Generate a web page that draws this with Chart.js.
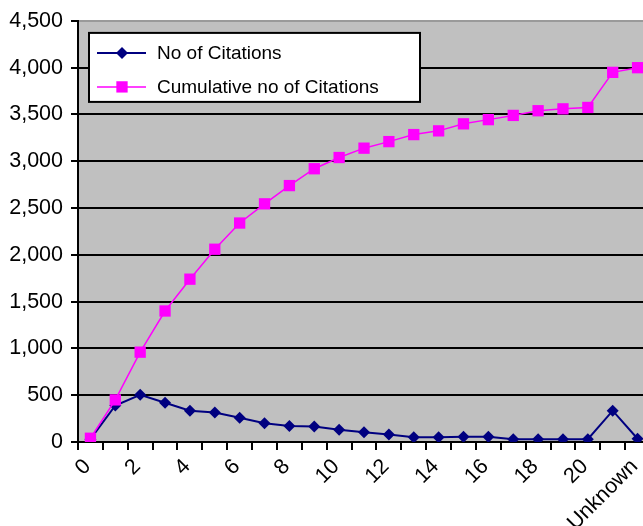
<!DOCTYPE html>
<html><head><meta charset="utf-8">
<script src="https://cdn.jsdelivr.net/npm/chart.js@4/dist/chart.umd.min.js"></script>
<style>
html,body{margin:0;padding:0;overflow:hidden;background:#fff;width:643px;height:526px}
#wrap{width:660px;height:526px;position:relative}
</style></head><body>
<div id="wrap"><canvas id="c"></canvas></div>
<script>
const categories = ['0','1','2','3','4','5','6','7','8','9','10','11','12','13','14','15','16','17','18','19','20','21','Unknown'];
const citations = [30, 390, 505, 420, 335, 315, 260, 200, 170, 165, 130, 105, 80, 50, 50, 55, 55, 30, 30, 30, 30, 335, 35];
const cumulative = [40, 450, 960, 1400, 1740, 2060, 2340, 2545, 2740, 2920, 3040, 3140, 3210, 3285, 3325, 3400, 3445, 3490, 3540, 3560, 3575, 3950, 4000];
const seriesNames = ['No of Citations', 'Cumulative no of Citations'];
const yMin = 0, yMax = 4500, yStep = 500;

const FONT = '"Liberation Sans", Arial, sans-serif';

const plotBg = {
  id: 'plotBg',
  beforeDraw(chart) {
    const a = chart.chartArea, ctx = chart.ctx;
    ctx.save();
    ctx.fillStyle = '#C0C0C0';
    ctx.fillRect(a.left, a.top, a.right - a.left, a.bottom - a.top);
    ctx.restore();
  }
};

function marker(ctx, style, x, y, r, color) {
  ctx.fillStyle = color;
  ctx.beginPath();
  if (style === 'rect') {
    const s = Math.SQRT1_2 * r;
    ctx.rect(x - s, y - s, 2 * s, 2 * s);
  } else {
    ctx.moveTo(x - r, y); ctx.lineTo(x, y - r); ctx.lineTo(x + r, y); ctx.lineTo(x, y + r); ctx.closePath();
  }
  ctx.fill();
}

const insideLegend = {
  id: 'insideLegend',
  afterDatasetsDraw(chart) {
    const a = chart.chartArea, ctx = chart.ctx;
    const x0 = a.left + 11, y0 = a.top + 12, w = 331, h = 69;
    ctx.save();
    ctx.fillStyle = '#fff';
    ctx.fillRect(x0, y0, w, h);
    ctx.lineWidth = 2; ctx.strokeStyle = '#000';
    ctx.strokeRect(x0, y0, w, h);
    const items = seriesNames.map(n => chart.data.datasets.find(d => d.label === n));
    items.forEach((ds, i) => {
      const yy = y0 + 20 + i * 34;
      ctx.strokeStyle = ds.borderColor; ctx.lineWidth = ds.borderWidth;
      ctx.beginPath(); ctx.moveTo(x0 + 8, yy); ctx.lineTo(x0 + 57, yy); ctx.stroke();
      marker(ctx, ds.pointStyle, x0 + 33, yy, ds.pointRadius, ds.pointBackgroundColor);
      ctx.fillStyle = '#000';
      ctx.font = '19px ' + FONT;
      ctx.textBaseline = 'middle'; ctx.textAlign = 'left';
      ctx.fillText(ds.label, x0 + 68, yy + 1);
    });
    ctx.restore();
  }
};

new Chart(document.getElementById('c'), {
  type: 'line',
  data: {
    labels: categories,
    datasets: [
      {
        label: seriesNames[0], data: citations,
        borderColor: '#000080', backgroundColor: '#000080',
        pointBackgroundColor: '#000080', pointBorderColor: '#000080',
        borderWidth: 2, pointStyle: 'rectRot', pointRadius: 6, pointBorderWidth: 0,
        tension: 0, order: 1
      },
      {
        label: seriesNames[1], data: cumulative,
        borderColor: '#FF00FF', backgroundColor: '#FF00FF',
        pointBackgroundColor: '#FF00FF', pointBorderColor: '#FF00FF',
        borderWidth: 1.5, pointStyle: 'rect', pointRadius: 8, pointBorderWidth: 0,
        tension: 0, order: 0
      }
    ]
  },
  options: {
    responsive: true, maintainAspectRatio: false, animation: false,
    devicePixelRatio: 1,
    layout: { padding: { top: 20, left: 0, right: 0, bottom: 0 } },
    plugins: { legend: { display: false }, tooltip: { enabled: false } },
    scales: {
      x: {
        type: 'category', offset: true,
        afterFit(s) { s.height = 84; },
        grid: { offset: true, drawOnChartArea: false, drawTicks: true, tickLength: 8, color: '#000', lineWidth: 2 },
        border: { display: true, color: '#000', width: 2 },
        ticks: {
          autoSkip: false, maxRotation: 45, minRotation: 45, padding: 4, labelOffset: -3,
          color: '#000', font: { family: FONT, size: 21.5 },
          callback(v, i) { return i % 2 === 0 ? this.getLabelForValue(v) : ''; }
        }
      },
      y: {
        min: yMin, max: yMax,
        afterFit(s) { s.width = 78; },
        grid: {
          color: c => (c.tick && c.tick.value === yMax) ? '#9a9a9a' : '#000',
          tickColor: '#000', lineWidth: 2, tickLength: 7
        },
        border: { display: true, color: '#000', width: 2 },
        ticks: { stepSize: yStep, padding: 8, color: '#000', font: { family: FONT, size: 21.5 } }
      }
    }
  },
  plugins: [plotBg, insideLegend]
});
</script>
</body></html>
